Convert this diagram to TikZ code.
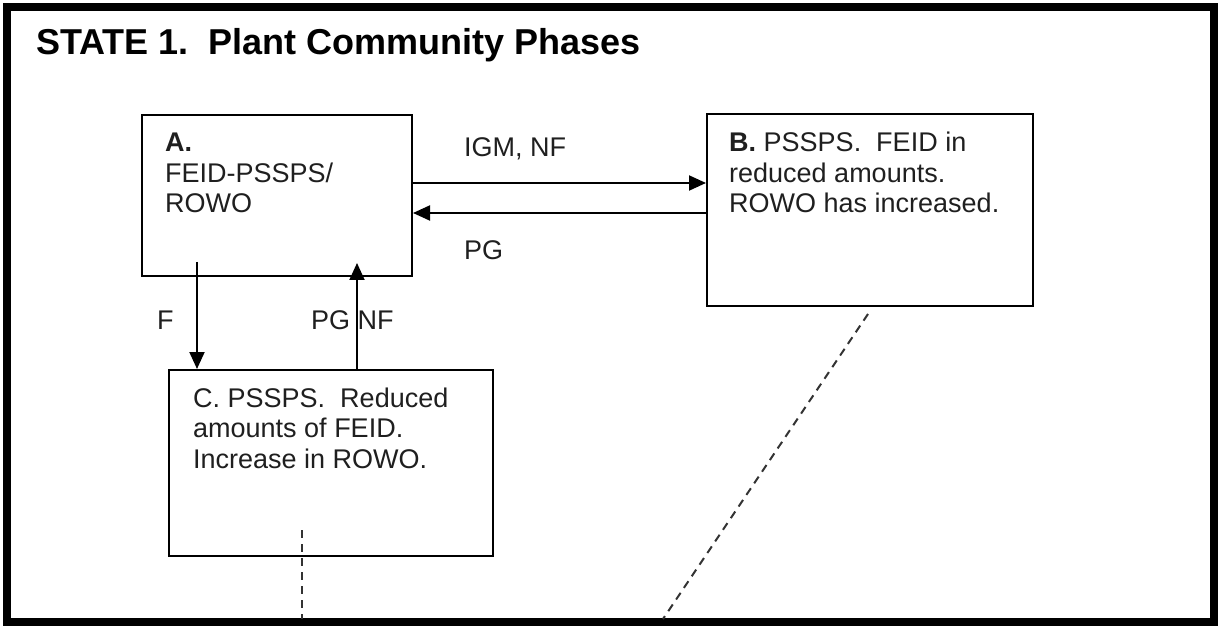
\documentclass[tikz,border=0pt]{standalone}
\usepackage{fontspec}
\setmainfont{Liberation Sans}
\usetikzlibrary{arrows.meta}
\tikzset{
  box/.style={draw, line width=2pt, inner sep=0pt, anchor=north west},
  boxtext/.style={anchor=base west, inner sep=0pt, align=left, font=\fontsize{27}{30.5}\selectfont, text=black!88},
  lbl/.style={anchor=base west, inner sep=0pt, font=\fontsize{27}{30.5}\selectfont, text=black!88},
  arr/.style={line width=2pt, -{Triangle[length=17pt,width=15pt]}},
  dsh/.style={line width=2pt, dash pattern=on 8pt off 6pt, black!80}
}
\begin{document}
\begin{tikzpicture}[x=1pt,y=-1pt]
\useasboundingbox (0,0) rectangle (1221,628);
% frame
\draw[line width=8pt] (7,7) rectangle (1214,622);
\node[anchor=base west, inner sep=0pt, font=\fontsize{36}{40}\selectfont\bfseries] (title) at (36,55) {STATE 1.\ \ Plant Community Phases};
% boxes
\node[box, minimum width=270pt, minimum height=161pt] (A) at (141,114) {};
\node[box, minimum width=326pt, minimum height=192pt] (B) at (706,113) {};
\node[box, minimum width=324pt, minimum height=186pt] (C) at (168,369) {};
% base anchor of a multi-line node is its last line
\node[boxtext] (tA) at (165,213) {\textbf{A.}\\FEID-PSSPS/\\ROWO};
\node[boxtext] (tB) at (729,213) {\textbf{B.} PSSPS.\ \ FEID in\\reduced amounts.\\ROWO has increased.};
\node[boxtext] (tC) at (193,468) {C. PSSPS.\ \ Reduced\\amounts of FEID.\\Increase in ROWO.};
% horizontal arrows
\draw[arr] (A.east |- 0,183) -- (B.west |- 0,183);
\draw[arr] (B.west |- 0,213) -- (A.east |- 0,213);
\node[lbl] (l1) at (464,157) {IGM, NF};
\node[lbl] (l2) at (464,260) {PG};
% vertical arrows
\coordinate (fs) at (197,262);
\coordinate (pe) at (357,263);
\draw[arr] (fs) -- (fs |- C.north);
\draw[arr] (pe |- C.north) -- (pe);
\node[lbl] (l3) at (157,330) {F};
\node[lbl] (l4) at (311,330) {PG NF};
% dashed lines
\coordinate (cd1) at (302,530);
\coordinate (cd2) at (302,619);
\draw[dsh] (cd1) -- (cd2);
\coordinate (bd1) at (868,314);
\coordinate (bd2) at (663,619);
\draw[dsh] (bd1) -- (bd2);
\end{tikzpicture}
\end{document}
